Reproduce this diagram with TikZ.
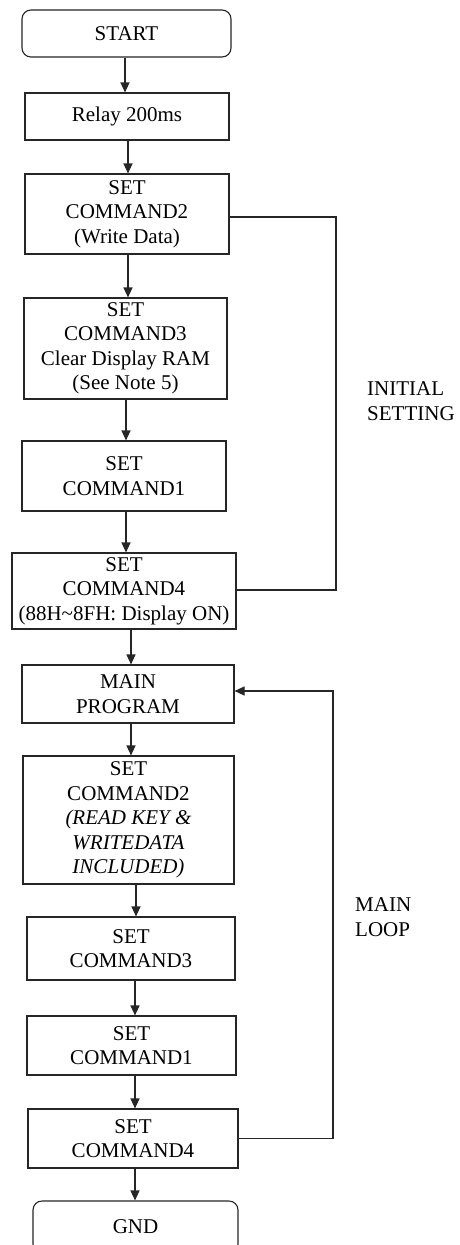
\documentclass[tikz,border=0pt]{standalone}
\usepackage{fontspec}
\setmainfont{Liberation Serif}
\usetikzlibrary{arrows.meta,calc}
\begin{document}
\begin{tikzpicture}[x=1pt,y=-1pt,
  box/.style={draw=black!85,line width=1.1pt,inner sep=0pt,align=center,
    font=\fontsize{21}{24.5}\selectfont},
  term/.style={box,rounded corners=9pt},
  arr/.style={draw=black!85,line width=1.1pt,-{Triangle[length=10pt,width=9pt]}},
  fb/.style={draw=black!85,line width=1.1pt},
  lbl/.style={inner sep=0pt,align=left,anchor=west,font=\fontsize{21}{24.5}\selectfont}]
\useasboundingbox (0,0) rectangle (459,1245);
\fill[white] (0,0) rectangle (459,1245);

\node[term,minimum width=209pt,minimum height=47pt] (start) at (126.5,33.5) {START};
\node[box,minimum width=204pt,minimum height=47pt] (relay) at (127,116.5) {Relay 200ms};
\node[box,minimum width=204pt,minimum height=80pt] (c2) at (127,214) {SET\\COMMAND2\\(Write Data)};
\node[box,minimum width=203pt,minimum height=101pt] (c3) at (125.5,348.5) {SET\\COMMAND3\\Clear Display RAM\\(See Note 5)};
\node[box,minimum width=204pt,minimum height=70pt] (c1) at (124,476) {SET\\COMMAND1};
\node[box,minimum width=224pt,minimum height=76pt] (c4) at (124,591) {SET\\COMMAND4\\(88H\textasciitilde 8FH: Display ON)};
\node[box,minimum width=212pt,minimum height=58pt] (main) at (128,694) {MAIN\\PROGRAM};
\node[box,minimum width=211pt,minimum height=128pt] (c2b) at (128.5,820) {SET\\COMMAND2\\\textit{(READ KEY \&}\\\textit{WRITEDATA}\\\textit{INCLUDED)}};
\node[box,minimum width=208pt,minimum height=63pt] (c3b) at (131,948.5) {SET\\COMMAND3};
\node[box,minimum width=209pt,minimum height=59pt] (c1b) at (131.5,1045.5) {SET\\COMMAND1};
\node[box,minimum width=210pt,minimum height=59pt] (c4b) at (133,1138.5) {SET\\COMMAND4};
\node[term,minimum width=205pt,minimum height=52pt] (gnd) at (135.5,1227) {GND};

\node[lbl] (lblinit) at (367,401) {INITIAL\\SETTING};
\node[lbl] (lblmain) at (355,917) {MAIN\\LOOP};

\draw[arr] ([xshift=-1.5pt]start.south) -- ([xshift=-1.5pt]start.south |- relay.north);
\draw[arr] ([xshift=1pt]relay.south) -- ([xshift=1pt]relay.south |- c2.north);
\draw[arr] ([xshift=1pt]c2.south) -- ([xshift=1pt]c2.south |- c3.north);
\draw[arr] ([xshift=0.5pt]c3.south) -- ([xshift=0.5pt]c3.south |- c1.north);
\draw[arr] ([xshift=2pt]c1.south) -- ([xshift=2pt]c1.south |- c4.north);
\draw[arr] ([xshift=7pt]c4.south) -- ([xshift=7pt]c4.south |- main.north);
\draw[arr] ([xshift=3pt]main.south) -- ([xshift=3pt]main.south |- c2b.north);
\draw[arr] ([xshift=7.5pt]c2b.south) -- ([xshift=7.5pt]c2b.south |- c3b.north);
\draw[arr] ([xshift=4pt]c3b.south) -- ([xshift=4pt]c3b.south |- c1b.north);
\draw[arr] ([xshift=3.5pt]c1b.south) -- ([xshift=3.5pt]c1b.south |- c4b.north);
\draw[arr] ([xshift=2pt]c4b.south) -- ([xshift=2pt]c4b.south |- gnd.north);

\coordinate (ir) at (336,0);
\draw[fb] ([yshift=-3pt]c2.east) -- ([yshift=-3pt]c2.east -| ir) -- ([yshift=1pt]c4.east -| ir) -- ([yshift=1pt]c4.east);
\coordinate (mr) at (333,0);
\draw[arr] (c4b.east) -- (c4b.east -| mr) -- ([yshift=3pt]main.east -| mr) -- ([yshift=3pt]main.east);
\end{tikzpicture}
\end{document}
